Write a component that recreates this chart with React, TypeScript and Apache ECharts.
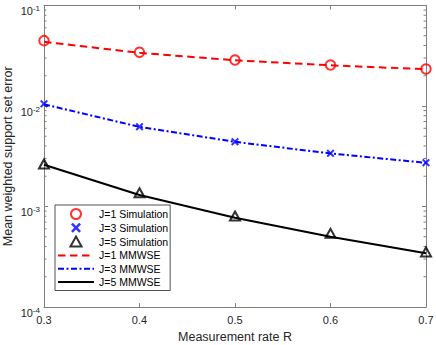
import React, { useEffect, useRef } from "react";
import * as echarts from "echarts";

const rates = [0.3, 0.4, 0.5, 0.6, 0.7];
const simJ1 = [0.0447, 0.0342, 0.0287, 0.0256, 0.0233];
const simJ3 = [0.0105, 0.00622, 0.00441, 0.00338, 0.00273];
const simJ5 = [0.00265, 0.00137, 0.000804, 0.000541, 0.000353];
const mmwseJ1 = [0.0435, 0.0338, 0.0285, 0.0254, 0.0232];
const mmwseJ3 = [0.0104, 0.0062, 0.0044, 0.00337, 0.00272];
const mmwseJ5 = [0.0026, 0.0013, 0.000774, 0.000501, 0.000342];
const seriesNames = [
  "J=1 Simulation",
  "J=3 Simulation",
  "J=5 Simulation",
  "J=1 MMWSE",
  "J=3 MMWSE",
  "J=5 MMWSE",
];
const xTitle = "Measurement rate R";
const yTitle = "Mean weighted support set error";

const FONT = "'Liberation Sans', Arial, Helvetica, sans-serif";
const AXIS = "#262626";
const BOX = "#7f7f7f";
const CROSS = "path://M1.8,0L5,3.2L8.2,0L10,1.8L6.8,5L10,8.2L8.2,10L5,6.8L1.8,10L0,8.2L3.2,5L0,1.8Z";
const TRI = "path://M5,0L10,9L0,9Z";
const CLEAR = "rgba(0,0,0,0)";

const pairs = (ys: number[]) => rates.map((x, i) => [x, ys[i]]);

export default function App() {
  const ref = useRef<HTMLDivElement>(null);
  useEffect(() => {
    if (!ref.current) return;
    const chart = echarts.init(ref.current, null, { renderer: "svg" });
    const yLabel = {
      show: true,
      formatter: (v: number) => `{b|10}{s|${Math.round(Math.log10(v))}}`,
      margin: 4,
      padding: [10, 0, 0, 0],
      rich: {
        b: { fontSize: 11, fontFamily: FONT, color: AXIS, lineHeight: 12, verticalAlign: "bottom" },
        s: { fontSize: 8, fontFamily: FONT, color: AXIS, lineHeight: 8, verticalAlign: "top" },
      },
    };
    const option: any = {
      animation: false,
      backgroundColor: "#fff",
      grid: { left: 44, right: 10, top: 5.5, bottom: 38, containLabel: false, outerBoundsMode: "none" },
      xAxis: [
        {
          type: "value", min: 0.3, max: 0.7, interval: 0.1, position: "bottom",
          name: xTitle, nameLocation: "middle", nameGap: 23, nameMoveOverlap: false,
          nameTextStyle: { fontSize: 12.5, fontFamily: FONT, color: AXIS },
          axisLine: { show: true, lineStyle: { color: BOX, width: 1 } },
          axisTick: { show: true, inside: true, length: 4, lineStyle: { color: BOX } },
          axisLabel: { fontSize: 11, fontFamily: FONT, color: AXIS, margin: 7, formatter: (v: number) => v.toFixed(1) },
          splitLine: { show: false },
        },
        {
          type: "value", min: 0.3, max: 0.7, interval: 0.1, position: "top",
          axisLine: { show: true, lineStyle: { color: BOX, width: 1 } },
          axisTick: { show: true, inside: true, length: 4, lineStyle: { color: BOX } },
          axisLabel: { show: false },
          splitLine: { show: false },
        },
      ],
      yAxis: [
        {
          type: "log", logBase: 10, min: 1e-4, max: 1e-1, position: "left",
          name: yTitle, nameLocation: "middle", nameGap: 30, nameMoveOverlap: false,
          nameTextStyle: { fontSize: 12.5, fontFamily: FONT, color: AXIS },
          axisLine: { show: true, lineStyle: { color: BOX, width: 1 } },
          axisTick: { show: true, inside: true, length: 4, lineStyle: { color: BOX } },
          axisLabel: yLabel,
          splitLine: { show: false },
        },
        {
          type: "log", logBase: 10, min: 1e-4, max: 1e-1, position: "right",
          axisLine: { show: true, lineStyle: { color: BOX, width: 1 } },
          axisTick: { show: true, inside: true, length: 4, lineStyle: { color: BOX } },
          axisLabel: { show: false },
          splitLine: { show: false },
        },
      ],
      legend: {
        orient: "vertical",
        left: 55,
        top: 205,
        padding: [3, 2, 3, 2],
        itemWidth: 36,
        itemHeight: 10,
        itemGap: 2.3,
        backgroundColor: "#fff",
        borderColor: AXIS,
        borderWidth: 0.8,
        borderRadius: 0,
        symbolKeepAspect: true,
        textStyle: { fontSize: 10.5, fontFamily: FONT, color: "#000" },
        data: [
          { name: seriesNames[0], icon: "circle", itemStyle: { color: CLEAR, borderColor: "#ff0000", borderWidth: 2 } },
          { name: seriesNames[1], icon: CROSS, itemStyle: { color: "#0000ff", borderWidth: 0 } },
          { name: seriesNames[2], icon: TRI, itemStyle: { color: CLEAR, borderColor: "#000", borderWidth: 2 } },
          { name: seriesNames[3], itemStyle: { color: CLEAR, borderColor: CLEAR, borderWidth: 0, opacity: 0 }, lineStyle: { color: "#ff0000", width: 2, type: [7.5, 4.5] } },
          { name: seriesNames[4], itemStyle: { color: CLEAR, borderColor: CLEAR, borderWidth: 0, opacity: 0 }, lineStyle: { color: "#0000ff", width: 2, type: [6, 2.5, 2, 2.5] } },
          { name: seriesNames[5], itemStyle: { color: CLEAR, borderColor: CLEAR, borderWidth: 0, opacity: 0 }, lineStyle: { color: "#000", width: 2, type: "solid" } },
        ],
      },
      series: [
        {
          name: seriesNames[0], type: "scatter", data: pairs(simJ1), symbol: "circle", symbolSize: 9.5,
          itemStyle: { color: CLEAR, borderColor: "#ff0000", borderWidth: 2 },
        },
        {
          name: seriesNames[1], type: "scatter", data: pairs(simJ3), symbol: CROSS, symbolSize: 8,
          itemStyle: { color: "#0000ff", borderWidth: 0 },
        },
        {
          name: seriesNames[2], type: "scatter", data: pairs(simJ5), symbol: TRI, symbolSize: [10, 9],
          itemStyle: { color: CLEAR, borderColor: "#000", borderWidth: 2 },
        },
        {
          name: seriesNames[3], type: "line", data: pairs(mmwseJ1), symbol: "none",
          lineStyle: { color: "#ff0000", width: 2, type: [7.5, 4.5] }, itemStyle: { color: "#ff0000" },
        },
        {
          name: seriesNames[4], type: "line", data: pairs(mmwseJ3), symbol: "none",
          lineStyle: { color: "#0000ff", width: 2, type: [6, 2.5, 2, 2.5] }, itemStyle: { color: "#0000ff" },
        },
        {
          name: seriesNames[5], type: "line", data: pairs(mmwseJ5), symbol: "none",
          lineStyle: { color: "#000", width: 2 }, itemStyle: { color: "#000" },
        },
      ],
    };
    chart.setOption(option);

    // minor log ticks on left and right edges, placed through the axis scale
    const xl = chart.convertToPixel({ xAxisIndex: 0 }, 0.3) as number;
    const xr = chart.convertToPixel({ xAxisIndex: 0 }, 0.7) as number;
    const minor: any[] = [];
    for (let d = -4; d <= -2; d++) {
      for (let k = 2; k <= 9; k++) {
        const y = chart.convertToPixel({ yAxisIndex: 0 }, k * Math.pow(10, d)) as number;
        minor.push({ type: "line", silent: true, shape: { x1: xl, y1: y, x2: xl + 2.5, y2: y }, style: { stroke: BOX, lineWidth: 1 } });
        minor.push({ type: "line", silent: true, shape: { x1: xr - 2.5, y1: y, x2: xr, y2: y }, style: { stroke: BOX, lineWidth: 1 } });
      }
    }
    chart.setOption({ graphic: minor });
    return () => chart.dispose();
  }, []);
  return (
    <div
      ref={ref}
      style={{ position: "fixed", left: 0, top: 0, width: 436, height: 345, background: "#fff" }}
    />
  );
}
